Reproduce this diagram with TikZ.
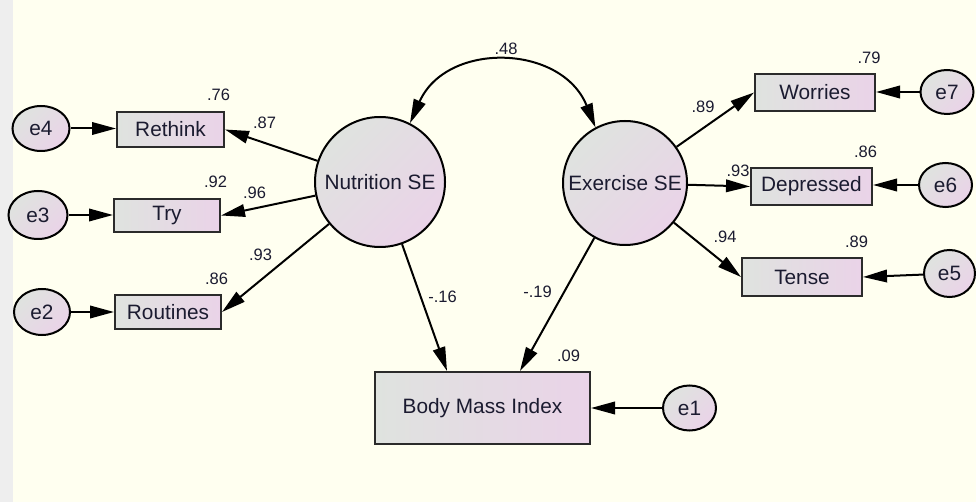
\documentclass[tikz,border=0pt]{standalone}
\usepackage{fontspec}
\setmainfont{Liberation Sans}
\usetikzlibrary{arrows.meta,shapes.geometric}

\definecolor{paper}{HTML}{FFFFF0}
\definecolor{strip}{HTML}{EEEEEE}
\definecolor{fillA}{HTML}{DFE3DF}
\definecolor{fillB}{HTML}{EAD3E8}
\definecolor{ink}{HTML}{1B1B30}
\definecolor{edge}{HTML}{2B2B2B}

\tikzset{
  link/.style={draw=black, line width=2pt, -{Triangle[length=24pt,width=12.5pt]}},
  covlink/.style={draw=black, line width=2pt, {Triangle[length=24pt,width=12.5pt]}-{Triangle[length=24pt,width=12.5pt]}},
  observed/.style={rectangle, draw=edge, line width=2pt, left color=fillA, right color=fillB,
    inner sep=0pt, text=ink, font=\fontsize{20.8}{24}\selectfont},
  latent/.style={circle, draw=black, line width=2pt, top color=fillA, bottom color=fillB,
    shading angle=45, inner sep=0pt, text=ink, font=\fontsize{20.8}{24}\selectfont},
  err/.style={ellipse, draw=black, line width=2pt, top color=fillA, bottom color=fillB,
    shading angle=45, inner sep=0pt, text=ink, font=\fontsize{20.8}{24}\selectfont},
  coef/.style={inner sep=0pt, text=ink, font=\fontsize{16.5}{18}\selectfont}
}

\begin{document}
\begin{tikzpicture}[x=1pt,y=1pt]
  % canvas
  \useasboundingbox (0,0) rectangle (976,-502);
  \fill[strip] (0,0) rectangle (13,-502);
  \fill[paper] (13,0) rectangle (976,-502);

  % latent factors
  \node[latent, minimum size=130pt] (nut) at (380,-182) {Nutrition SE};
  \node[latent, minimum size=124pt] (ex)  at (625,-183) {Exercise SE};

  % nutrition indicators
  \node[observed, minimum width=107pt, minimum height=35pt] (rethink)  at (170.5,-129.5) {Rethink};
  \node[observed, minimum width=106pt, minimum height=33pt] (try)      at (167,-215.5) {Try};
  \node[observed, minimum width=106pt, minimum height=34pt] (routines) at (168,-312) {Routines};

  % exercise indicators
  \node[observed, minimum width=120pt, minimum height=37pt] (worries)   at (815,-92.5) {Worries};
  \node[observed, minimum width=121pt, minimum height=37pt] (depressed) at (811.5,-186.5) {Depressed};
  \node[observed, minimum width=120pt, minimum height=38pt] (tense)     at (802,-277) {Tense};

  % outcome
  \node[observed, minimum width=215pt, minimum height=72pt] (bmi) at (482.5,-408) {Body Mass Index};

  % error terms
  \node[err, minimum width=57pt, minimum height=45pt] (e4) at (41,-128.5) {e4};
  \node[err, minimum width=59pt, minimum height=48pt] (e3) at (38,-215) {e3};
  \node[err, minimum width=56pt, minimum height=46pt] (e2) at (42,-312) {e2};
  \node[err, minimum width=53pt, minimum height=44pt] (e7) at (947,-92) {e7};
  \node[err, minimum width=53pt, minimum height=44pt] (e6) at (945.5,-185) {e6};
  \node[err, minimum width=51pt, minimum height=47pt] (e5) at (949.5,-273.5) {e5};
  \node[err, minimum width=53pt, minimum height=45pt] (e1) at (689.5,-408) {e1};

  % entry points on the outcome box
  \coordinate (bmiA) at ([xshift=73pt]bmi.north west);
  \coordinate (bmiB) at ([xshift=146pt]bmi.north west);

  % covariance between the factors
  \draw[covlink] (nut.63) to[out=66,in=112,looseness=1.24] (ex.118);

  % loadings
  \draw[link] (nut) -- (rethink.east);
  \draw[link] (nut) -- (try.east);
  \draw[link] (nut) -- (routines.east);
  \draw[link] (ex) -- (worries.west);
  \draw[link] (ex) -- (depressed.west);
  \draw[link] (ex) -- (tense.west);

  % structural paths
  \draw[link] (nut) -- (bmiA);
  \draw[link] (ex) -- (bmiB);

  % residual paths
  \draw[link] (e4) -- (e4 -| rethink.west);
  \draw[link] (e3) -- (e3 -| try.west);
  \draw[link] (e2) -- (e2 -| routines.west);
  \draw[link] (e7) -- (e7 -| worries.east);
  \draw[link] (e6) -- (e6 -| depressed.east);
  \draw[link] (e5) -- (tense.east);
  \draw[link] (e1) -- (e1 -| bmi.east);

  % estimates
  \node[coef] (c48)  at (506,-49)     {.48};
  \node[coef] (r76)  at (218.5,-95)   {.76};
  \node[coef] (l87)  at (264.5,-123)  {.87};
  \node[coef] (r92)  at (215.5,-182)  {.92};
  \node[coef] (l96)  at (254.5,-192.5){.96};
  \node[coef] (l93)  at (260.5,-254.5){.93};
  \node[coef] (r86)  at (216.5,-279)  {.86};
  \node[coef] (l89)  at (703,-107)    {.89};
  \node[coef] (r79)  at (869,-57.5)   {.79};
  \node[coef] (r86b) at (865.5,-151.5){.86};
  \node[coef] (l93b) at (738,-171)    {.93};
  \node[coef] (l94)  at (725,-236.5)  {.94};
  \node[coef] (r89)  at (856.5,-241.5){.89};
  \node[coef] (r09)  at (568.5,-355.5){.09};
  \node[coef] (p16)  at (442.5,-296.5){-.16};
  \node[coef] (p19)  at (537.5,-291.5){-.19};
\end{tikzpicture}
\end{document}
